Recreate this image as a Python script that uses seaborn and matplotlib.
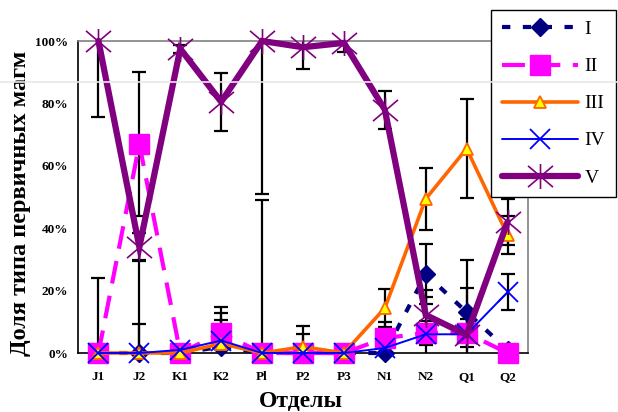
import numpy as np
import pandas as pd
import matplotlib
matplotlib.use("Agg")
import matplotlib.pyplot as plt
from matplotlib.path import Path
from matplotlib.lines import Line2D
from matplotlib.ticker import FixedLocator, PercentFormatter
import seaborn as sns

# ---- data ----
categories = ['J1', 'J2', 'K1', 'K2', 'Pl', 'P2', 'P3', 'N1', 'N2', 'Q1', 'Q2']
series_names = ['I', 'II', 'III', 'IV', 'V']

vals_I = [0, 0, 0, 2, 0, 0, 0, 0, 25.3, 13.1, 1]
vals_II = [0, 67, 0, 6.4, 0, 0, 0, 4.8, 6.4, 6.4, 0]
vals_III = [0, 0, 0, 3, 0, 2, 0, 14.4, 49.4, 65.5, 37.8]
vals_IV = [0, 0, 1, 4, 0, 0, 0, 1.6, 6, 6, 19.5]
vals_V = [100, 34, 97.5, 80.5, 100, 98, 99.4, 78, 12.2, 5.8, 42]

err_I = [0, 9.3, 0, 0, 49, 0, 0, 0, 9.6, 16.7, 0]
err_II = [0, 23, 0, 8.4, 0, 6.1, 0, 5.2, 3.8, 4.4, 0]
err_III = [24, 29.8, 0, 7.6, 0, 6.7, 0, 6, 10, 15.8, 6]
err_IV = [0, 0, 0, 8.9, 0, 0, 0, 0, 11.9, 0, 5.7]
err_V = [24.4, 4.5, 1.3, 9.4, 49, 7, 2.8, 6.1, 8, 15, 7.4]

# ---- styling ----
sns.set_style("white")
plt.rcParams['font.family'] = ['Liberation Serif', 'DejaVu Serif']
plt.rcParams['text.color'] = 'black'
plt.rcParams['axes.labelcolor'] = 'black'
plt.rcParams['xtick.color'] = 'black'
plt.rcParams['ytick.color'] = 'black'

# Excel-like asterisk marker: X plus vertical bar
star = Path([(0, -1), (0, 1), (-1, -0.85), (1, 0.85), (-1, 0.85), (1, -0.85)],
            [Path.MOVETO, Path.LINETO] * 3)

styles = {
    'I': dict(color='#000080', lw=3, dashes=(2, 3), marker='D', ms=9.5,
              mfc='#000080', mec='#000080', mew=1),
    'II': dict(color='#FF00FF', lw=3, dashes=(5.5, 3), marker='s', ms=14,
               mfc='#FF00FF', mec='#FF00FF', mew=1),
    'III': dict(color='#FF6600', lw=2.6, dashes=None, marker='^', ms=9,
                mfc='#FFFF00', mec='#FF6600', mew=1.3),
    'IV': dict(color='#0000FF', lw=1.4, dashes=None, marker='x', ms=14,
               mfc='#0000FF', mec='#0000FF', mew=1.3),
    'V': dict(color='#800080', lw=4.5, dashes=None, marker=star, ms=18,
              mfc='#800080', mec='#800080', mew=1.2),
}

values = {'I': vals_I, 'II': vals_II, 'III': vals_III, 'IV': vals_IV, 'V': vals_V}
errors = {'I': err_I, 'II': err_II, 'III': err_III, 'IV': err_IV, 'V': err_V}

x = np.arange(len(categories))

fig = plt.figure(figsize=(6.18, 4.12), dpi=100)
ax = fig.add_axes([78 / 618, 1 - 353 / 412, 450 / 618, 312 / 412])

# error bars (black, under the lines)
for name in series_names:
    v = np.array(values[name], dtype=float)
    e = np.array(errors[name], dtype=float)
    m = e > 0
    ax.errorbar(x[m], v[m], yerr=e[m], fmt='none', ecolor='black',
                elinewidth=1.6, capsize=5, capthick=1.6, zorder=1)

# series lines
for i, name in enumerate(series_names):
    st = styles[name]
    df = pd.DataFrame({'x': x, 'y': values[name]})
    sns.lineplot(data=df, x='x', y='y', ax=ax, sort=False, color=st['color'],
                 linewidth=st['lw'], legend=False, zorder=3 + i)
    line = ax.get_lines()[-1]
    if st['dashes'] is not None:
        line.set_dashes(st['dashes'])
    line.set_marker(st['marker'])
    line.set_markersize(st['ms'])
    line.set_markerfacecolor(st['mfc'])
    line.set_markeredgecolor(st['mec'])
    line.set_markeredgewidth(st['mew'])
    line.set_clip_on(False)
    line.set_solid_joinstyle('miter')

ax.set_xlim(-0.5, len(categories) - 0.5)
ax.set_ylim(0, 100)

ax.set_xticks(x)
ax.set_xticklabels(categories, fontsize=9.5, fontweight='bold')
ax.xaxis.set_minor_locator(FixedLocator(np.arange(-0.5, len(categories), 1)))
ax.tick_params(axis='x', which='major', length=0, pad=13)
ax.tick_params(axis='x', which='minor', length=4, width=1, direction='out', color='black')

ax.set_yticks(np.arange(0, 101, 20))
ax.yaxis.set_major_formatter(PercentFormatter(decimals=0))
ax.tick_params(axis='y', length=4, width=1, direction='out', color='black', pad=3)
for t in ax.get_yticklabels():
    t.set_fontsize(9.5)
    t.set_fontweight('bold')

for s in ['left', 'bottom']:
    ax.spines[s].set_color('black')
    ax.spines[s].set_linewidth(1.2)
for s in ['top', 'right']:
    ax.spines[s].set_color('#808080')
    ax.spines[s].set_linewidth(1.2)

ax.set_ylabel('Доля типа первичных магм', fontsize=17.5, fontweight='bold')
ax.yaxis.label.set_va('center')
ax.yaxis.set_label_coords(-0.128, 0.48)
ax.set_xlabel('Отделы', fontsize=17, fontweight='bold')
ax.xaxis.label.set_va('center')
ax.xaxis.set_label_coords(0.495, -0.155)

# legend: handles match the plotted series
handles = []
for name in series_names:
    st = styles[name]
    h = Line2D([], [], color=st['color'], lw=st['lw'], marker=st['marker'],
               ms=st['ms'], mfc=st['mfc'], mec=st['mec'], mew=st['mew'])
    if st['dashes'] is not None:
        h.set_dashes(st['dashes'])
    handles.append(h)
leg = fig.legend(handles, series_names, loc='upper left',
                 bbox_to_anchor=(491 / 618, 1 - 10 / 412), frameon=True,
                 fancybox=False, edgecolor='black', framealpha=1,
                 fontsize=14, handlelength=3.9, handletextpad=0.35,
                 labelspacing=1.0, borderpad=0.55, borderaxespad=0)
leg.get_frame().set_linewidth(1)

# faint scan line across the whole picture
fig.add_artist(Line2D([0, 1], [1 - 82 / 412] * 2, transform=fig.transFigure,
                      color='#e8e8e8', lw=1.2, zorder=20))

fig.savefig('out.png', dpi=100)
